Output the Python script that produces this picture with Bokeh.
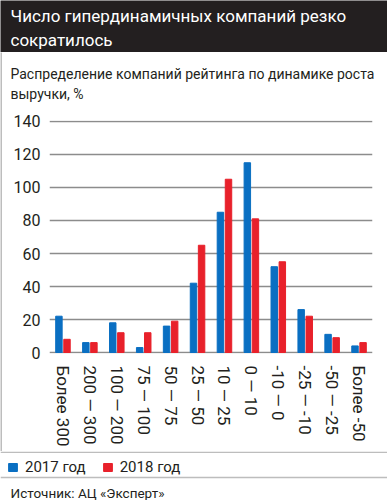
import numpy as np
from bokeh.plotting import figure
from bokeh.models import (FactorRange, Range1d, ColumnDataSource, Legend, LegendItem,
                          FixedTicker, Span)
from bokeh.transform import dodge
from bokeh.layouts import column, row
from bokeh.embed import file_html
from bokeh.resources import INLINE
from bokeh.core.properties import value

# ---------------- data ----------------
title_lines = ["Число гипердинамичных компаний резко", "сократилось"]
subtitle_lines = ["Распределение компаний рейтинга по динамике роста", "выручки, %"]
categories = ["Более 300", "200 — 300", "100 — 200", "75 — 100", "50 — 75", "25 — 50",
              "10 — 25", "0 — 10", "-10 — 0", "-25 — -10", "-50 — -25", "Более -50"]
values_2017 = [22, 6, 18, 3, 16, 42, 85, 115, 52, 26, 11, 4]
values_2018 = [8, 6, 12, 12, 19, 65, 105, 81, 55, 22, 9, 6]
series_names = ["2017 год", "2018 год"]
y_ticks = [0, 20, 40, 60, 80, 100, 120, 140]
source_text = "Источник: АЦ «Эксперт»"

# ---------------- style ----------------
W = 387
FONT = "Roboto"
DARK = "#231f20"
BLUE = "#0a6fc2"
RED = "#e8212b"
GRID = "#8c8c8c"
RULE = "#bdbdbd"


def panel(w, h, fill="white"):
    """A blank drawing area whose data space is its own pixel grid (y down)."""
    f = figure(width=w, height=h, x_range=Range1d(0, w), y_range=Range1d(h, 0),
               toolbar_location=None, output_backend="svg", min_border=0,
               x_axis_location=None, y_axis_location=None, title=None,
               outline_line_color=None, background_fill_color=fill,
               border_fill_color=fill)
    f.grid.visible = False
    f.frame_align = False
    return f


def write(f, lines, xs, ys, size, color):
    f.text(x=xs, y=ys, text=lines, text_font=value(FONT), text_font_size=size,
           text_color=color, text_baseline="middle", text_align="left")


# ---------- title band (canvas y 0..52) ----------
band = panel(W, 52, DARK)
write(band, title_lines, [10, 10], [15, 39], "17px", "white")

# ---------- left rule (canvas x 0..2, y 52..451) ----------
rule_left = panel(2, 399, RULE)

# ---------- subtitle (canvas y 52..104, x 2..387) ----------
sub = panel(W - 2, 52)
write(sub, subtitle_lines, [8, 8], [21, 41], "14px", DARK)

# ---------- chart (canvas y 104..451, x 2..387) ----------
p = figure(width=W - 2, height=347, x_range=FactorRange(factors=categories),
           y_range=Range1d(-0.6, 140.6), toolbar_location=None, output_backend="svg",
           title=None, min_border_top=16, min_border_bottom=98, min_border_left=47,
           min_border_right=15, outline_line_color=None)
p.frame_align = False

src = ColumnDataSource(dict(cat=categories, v17=values_2017, v18=values_2018))
p.vbar(x=dodge("cat", -0.15, range=p.x_range), top="v17", width=0.24, source=src,
       color=BLUE)
p.vbar(x=dodge("cat", 0.15, range=p.x_range), top="v18", width=0.24, source=src,
       color=RED)

p.xgrid.visible = False
p.ygrid.ticker = FixedTicker(ticks=y_ticks)
p.ygrid.grid_line_color = GRID
p.ygrid.grid_line_width = 1.5

p.yaxis.ticker = FixedTicker(ticks=y_ticks)
for ax in (p.xaxis[0], p.yaxis[0]):
    ax.axis_line_color = None
    ax.major_tick_line_color = None
    ax.minor_tick_line_color = None
    ax.major_tick_out = 0
    ax.major_tick_in = 0
    ax.major_label_text_font = FONT
    ax.major_label_text_color = DARK
p.yaxis.major_label_text_font_size = "16px"
p.xaxis.major_label_text_font_size = "17px"
p.yaxis.major_label_standoff = 9
p.xaxis.major_label_standoff = 12
p.xaxis.major_label_orientation = "vertical"

# ---------- footer (canvas y 451..500): rules, legend, source ----------
foot = panel(W, 49)
foot.add_layout(Span(location=0.75, dimension="width", line_color=RULE, line_width=1.5))
foot.add_layout(Span(location=26, dimension="width", line_color=RULE, line_width=1.5))
# legend keys: styled like the bars, with no drawable position of their own
nan = np.array([np.nan])
k17 = foot.vbar(x=nan, top=nan, width=1, color=BLUE)
k18 = foot.vbar(x=nan, top=nan, width=1, color=RED)
legend = Legend(items=[LegendItem(label=series_names[0], renderers=[k17]),
                       LegendItem(label=series_names[1], renderers=[k18])],
                location=(7, 24), orientation="horizontal",
                glyph_width=11, glyph_height=10, label_standoff=7, spacing=16,
                label_height=18, padding=0, margin=0, border_line_color=None,
                background_fill_alpha=0, label_text_font=FONT,
                label_text_font_size="15px", label_text_color=DARK)
foot.add_layout(legend, "center")
write(foot, [source_text], [10], [41], "13.5px", DARK)

layout = column(band, row(rule_left, column(sub, p, spacing=0), spacing=0), foot,
                spacing=0)
open("out.html", "w").write(file_html(layout, INLINE))
